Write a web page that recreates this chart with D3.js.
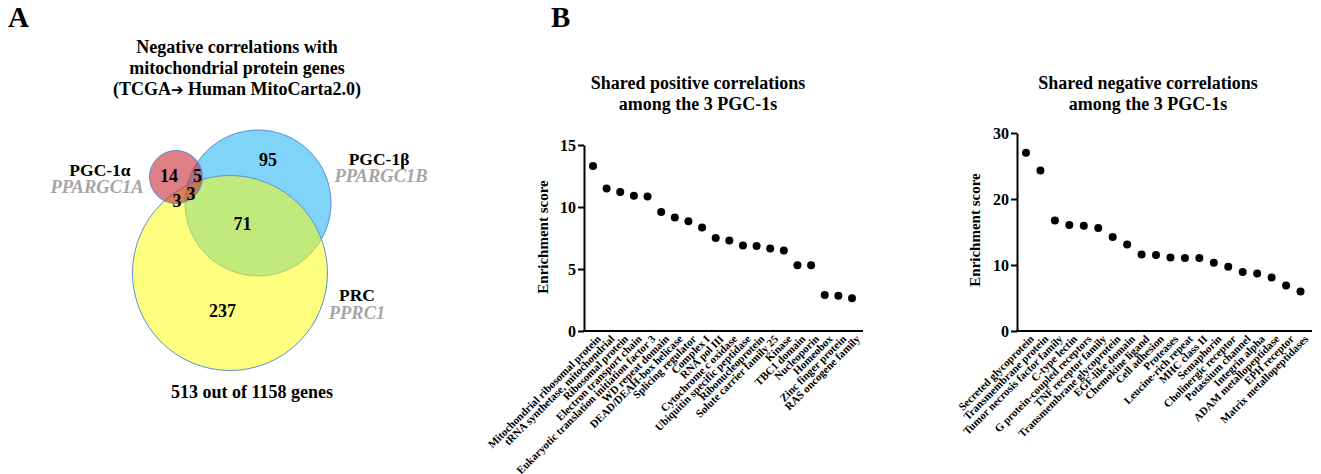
<!DOCTYPE html>
<html>
<head>
<meta charset="utf-8">
<script src="https://cdn.jsdelivr.net/npm/d3@7"></script>
<style>
  body { margin:0; background:#fff; }
  svg { font-family:"Liberation Serif","Times New Roman",serif; font-weight:bold; }
</style>
</head>
<body>
<svg id="fig" width="1321" height="474"></svg>
<script>
// --- Data ---
const vennTitle = ["Negative correlations with", "mitochondrial protein genes", "(TCGA", " Human MitoCarta2.0)"];
const vennSetNames = ["PGC-1\u03b1", "PGC-1\u03b2", "PRC"];
const vennGeneNames = ["PPARGC1A", "PPARGC1B", "PPRC1"];
const vennRegionCounts = [14, 95, 237, 5, 3, 71, 3];   // a, b, c, ab, ac, bc, abc
const vennFooter = "513 out of 1158 genes";

const posTitle = ["Shared positive correlations", "among the 3 PGC-1s"];
const posCategories = ["Mitochondrial ribosomal protein","tRNA synthetase, mitochondrial","Ribosomal protein",
  "Electron transport chain","Eukaryotic translation initiation factor 3","WD repeat domain","DEAD/DEAH-box helicase",
  "Splicing regulator","Complex I","RNA pol III","Cytochrome c oxidase","Ubiquitin specific peptidase",
  "Ribonucleoprotein","Solute carrier family 25","Kinase","TBC1 domain","Nucleoporin","Homeobox",
  "Zinc finger protein","RAS oncogene family"];
const posScores = [13.3,11.5,11.2,10.9,10.85,9.6,9.15,8.85,8.35,7.5,7.3,6.9,6.85,6.65,6.5,5.3,5.3,2.9,2.85,2.65];
const posTicks = [0,5,10,15];

const negTitle = ["Shared negative correlations", "among the 3 PGC-1s"];
const negCategories = ["Secreted glycoprotein","Transmembrane protein","Tumor necrosis factor family","C-type lectin",
  "G protein-coupled receptors","TNF receptor family","Transmembrane glycoprotein","EGF-like domain",
  "Chemokine ligand","Cell adhesion","Proteases","Leucine-rich repeat","MHC class II","Semaphorin",
  "Cholinergic receptor","Potassium channel","Integrin alpha","ADAM metallopeptidase","EPH receptor",
  "Matrix metallopeptidases"];
const negScores = [27.0,24.3,16.75,16.05,15.95,15.6,14.25,13.1,11.6,11.5,11.15,11.05,11.05,10.35,9.75,8.95,8.7,8.1,6.9,6.0];
const negTicks = [0,10,20,30];

const svg = d3.select("#fig");

// panel letters
svg.append("text").attr("x",8).attr("y",27).attr("font-size",29).text("A");
svg.append("text").attr("x",551).attr("y",27).attr("font-size",29).text("B");

// --- Venn (panel A) ---
const venn = svg.append("g");
const tFont = 18;
venn.append("text").attr("x",237).attr("y",53).attr("text-anchor","middle").attr("font-size",tFont).text(vennTitle[0]);
venn.append("text").attr("x",237).attr("y",74).attr("text-anchor","middle").attr("font-size",tFont).text(vennTitle[1]);
const t3 = venn.append("text").attr("x",237).attr("y",95).attr("text-anchor","middle").attr("font-size",tFont);
t3.append("tspan").text(vennTitle[2]);
t3.append("tspan").attr("font-family","DejaVu Sans").attr("font-size",15).text("\u2794");
t3.append("tspan").text(vennTitle[3]);

// circles: blue bottom, yellow translucent, red translucent on top
const circ = [
  {cx:258, cy:203, r:73, fill:"#80d4f8", op:1},
  {cx:230, cy:273, r:97.5, fill:"#ffff00", op:0.5},
  {cx:176, cy:177, r:26.5, fill:"#c8303a", op:0.62}
];
venn.selectAll("circle").data(circ).enter().append("circle")
  .attr("cx",d=>d.cx).attr("cy",d=>d.cy).attr("r",d=>d.r)
  .attr("fill",d=>d.fill).attr("fill-opacity",d=>d.op)
  .attr("stroke","#5b8fd8").attr("stroke-width",1);

const countPos = [[169,182],[268,166],[222.5,317],[197.5,182],[177,207],[242.5,230],[191,200]];
venn.selectAll("text.vc").data(vennRegionCounts).enter().append("text")
  .attr("x",(d,i)=>countPos[i][0]).attr("y",(d,i)=>countPos[i][1])
  .attr("text-anchor","middle").attr("font-size",18).text(d=>d);

const namePos = [[100,176],[379,165],[357,301]];
const genePos = [[97,193],[381,182],[357,319]];
venn.selectAll("text.sn").data(vennSetNames).enter().append("text")
  .attr("x",(d,i)=>namePos[i][0]).attr("y",(d,i)=>namePos[i][1])
  .attr("text-anchor","middle").attr("font-size",17.5).text(d=>d);
venn.selectAll("text.gn").data(vennGeneNames).enter().append("text")
  .attr("x",(d,i)=>genePos[i][0]).attr("y",(d,i)=>genePos[i][1])
  .attr("text-anchor","middle").attr("font-size",18.5).attr("font-style","italic")
  .attr("fill","#a6a6a6").text(d=>d);

venn.append("text").attr("x",252).attr("y",398).attr("text-anchor","middle")
  .attr("font-size",18).text(vennFooter);

// --- Dot plots (panel B) ---
function dotPlot(cfg){
  const g = svg.append("g");
  const y = d3.scaleLinear().domain([0, d3.max(cfg.ticks)]).range([cfg.y0, cfg.yTop]);
  const x = d3.scalePoint().domain(cfg.cats).range([cfg.xFirst, cfg.xLast]);

  g.selectAll("text.t").data(cfg.title).enter().append("text")
    .attr("x",cfg.titleX).attr("y",(d,i)=>89+i*21).attr("text-anchor","middle")
    .attr("font-size",18).text(d=>d);

  const ay = g.append("g").attr("transform",`translate(${cfg.xAxis},0)`)
    .call(d3.axisLeft(y).tickValues(cfg.ticks).tickSize(6).tickSizeOuter(0).tickPadding(2));
  ay.select(".domain").attr("stroke-width",2);
  ay.selectAll(".tick line").attr("stroke-width",2);
  ay.selectAll(".tick text").attr("font-family","Liberation Serif").attr("font-weight","bold")
    .attr("font-size",16).attr("fill","#000");

  g.append("line").attr("x1",cfg.xAxis-1).attr("x2",cfg.xEnd)
    .attr("y1",y(0)).attr("y2",y(0)).attr("stroke","#000").attr("stroke-width",2);

  g.append("text").attr("transform",`translate(${cfg.ylabX},${cfg.ylabY}) rotate(-90)`)
    .attr("text-anchor","middle").attr("font-size",15).text("Enrichment score");

  g.selectAll("circle").data(cfg.vals).enter().append("circle")
    .attr("cx",(d,i)=>x(cfg.cats[i])).attr("cy",d=>y(d)).attr("r",4).attr("fill","#000");

  g.selectAll("text.xl").data(cfg.cats).enter().append("text")
    .attr("transform",d=>`translate(${x(d)+3},${y(0)+3}) rotate(-45)`)
    .attr("text-anchor","end").attr("dy","0.72em").attr("font-size",11).text(d=>d);
}

dotPlot({title:posTitle, cats:posCategories, vals:posScores, ticks:posTicks,
  titleX:698, xAxis:584, xEnd:863, xFirst:593, xLast:852, y0:331, yTop:145, ylabX:548, ylabY:237});
dotPlot({title:negTitle, cats:negCategories, vals:negScores, ticks:negTicks,
  titleX:1148, xAxis:1017, xEnd:1312, xFirst:1026, xLast:1300.5, y0:331, yTop:133, ylabX:980, ylabY:230});
</script>
</body>
</html>
